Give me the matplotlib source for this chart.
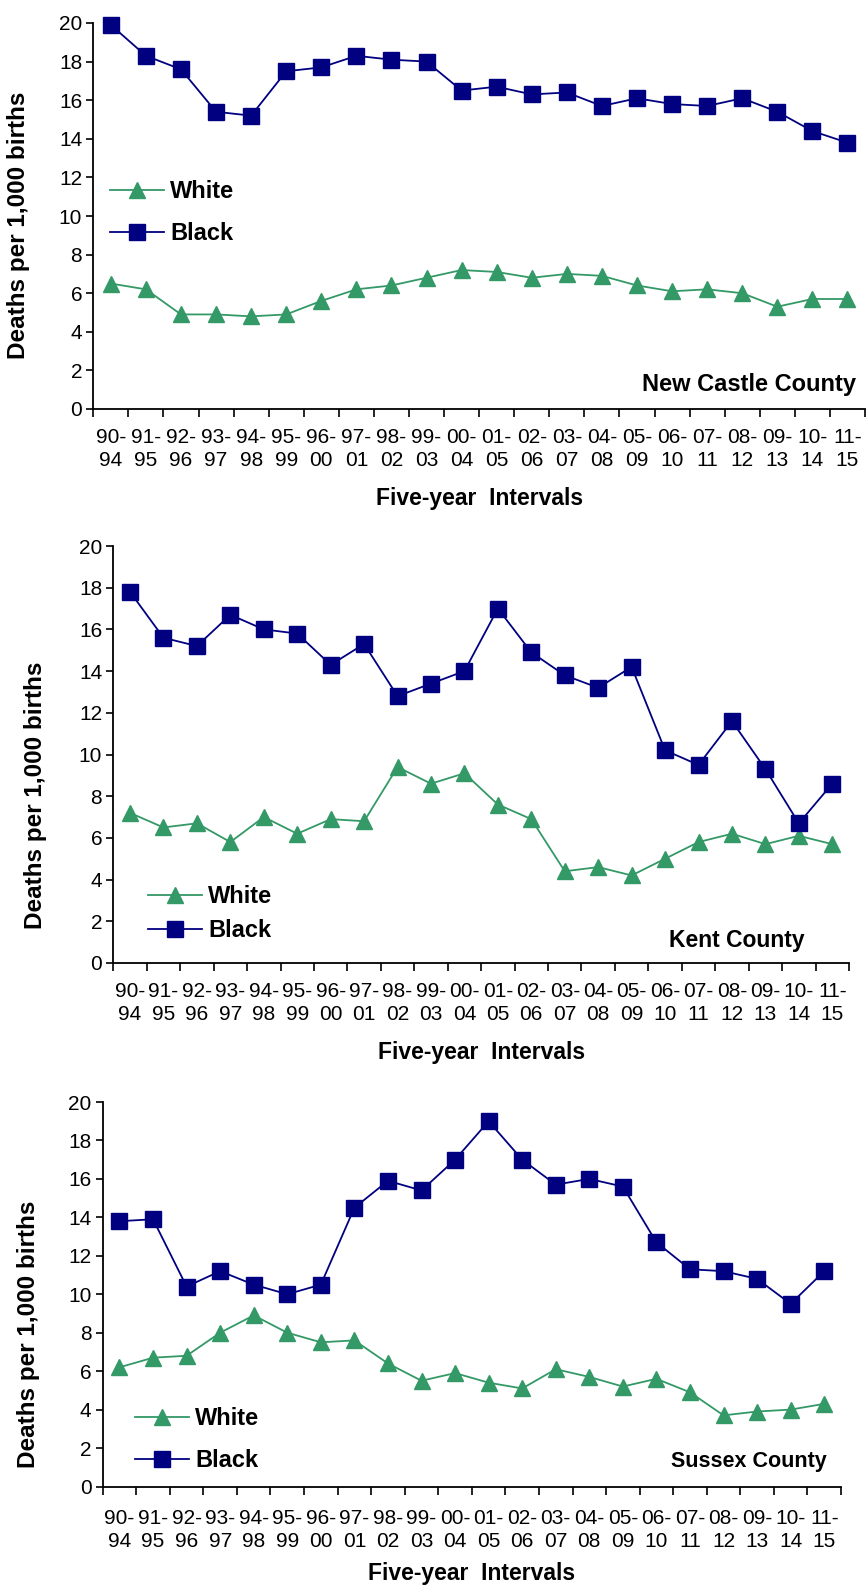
import numpy as np
import matplotlib
matplotlib.use("Agg")
import matplotlib.pyplot as plt
from matplotlib.ticker import FixedLocator

plt.rcParams['font.family'] = ['Liberation Sans', 'DejaVu Sans']

# five-year intervals 1990-94 ... 2011-15
intervals = ["90-\n94", "91-\n95", "92-\n96", "93-\n97", "94-\n98", "95-\n99",
             "96-\n00", "97-\n01", "98-\n02", "99-\n03", "00-\n04", "01-\n05",
             "02-\n06", "03-\n07", "04-\n08", "05-\n09", "06-\n10", "07-\n11",
             "08-\n12", "09-\n13", "10-\n14", "11-\n15"]

nc_white = [6.5, 6.2, 4.9, 4.9, 4.8, 4.9, 5.6, 6.2, 6.4, 6.8, 7.2,
            7.1, 6.8, 7.0, 6.9, 6.4, 6.1, 6.2, 6.0, 5.3, 5.7, 5.7]
nc_black = [19.9, 18.3, 17.6, 15.4, 15.2, 17.5, 17.7, 18.3, 18.1, 18.0, 16.5,
            16.7, 16.3, 16.4, 15.7, 16.1, 15.8, 15.7, 16.1, 15.4, 14.4, 13.8]

kent_white = [7.2, 6.5, 6.7, 5.8, 7.0, 6.2, 6.9, 6.8, 9.4, 8.6, 9.1,
              7.6, 6.9, 4.4, 4.6, 4.2, 5.0, 5.8, 6.2, 5.7, 6.1, 5.7]
kent_black = [17.8, 15.6, 15.2, 16.7, 16.0, 15.8, 14.3, 15.3, 12.8, 13.4, 14.0,
              17.0, 14.9, 13.8, 13.2, 14.2, 10.2, 9.5, 11.6, 9.3, 6.7, 8.6]

sus_white = [6.2, 6.7, 6.8, 8.0, 8.9, 8.0, 7.5, 7.6, 6.4, 5.5, 5.9,
             5.4, 5.1, 6.1, 5.7, 5.2, 5.6, 4.9, 3.7, 3.9, 4.0, 4.3]
sus_black = [13.8, 13.9, 10.4, 11.2, 10.5, 10.0, 10.5, 14.5, 15.9, 15.4, 17.0,
             19.0, 17.0, 15.7, 16.0, 15.6, 12.7, 11.3, 11.2, 10.8, 9.5, 11.2]

GREEN = '#339966'
NAVY = '#000080'

W, H = 868, 1589
fig = plt.figure(figsize=(W / 100, H / 100), dpi=100)


def px_axes(left, top, right, bottom):
    return fig.add_axes([left / W, 1 - bottom / H, (right - left) / W, (bottom - top) / H])


def draw_panel(ax, white, black, county, county_xy, county_fs, leg_xy, leg_space,
               ylab_xy, tick_pad, xlab_pad):
    x = np.arange(len(intervals)) + 0.5
    ax.plot(x, white, color=GREEN, lw=1.3, marker='^', ms=11,
            mec=GREEN, mfc=GREEN, label='White', clip_on=False, zorder=3)
    ax.plot(x, black, color=NAVY, lw=1.3, marker='s', ms=11.5,
            mec=NAVY, mfc=NAVY, label='Black', clip_on=False, zorder=4)

    ax.set_xlim(0, len(intervals))
    ax.set_ylim(0, 20)
    ax.set_yticks(np.arange(0, 21, 2))
    ax.xaxis.set_major_locator(FixedLocator(np.arange(len(intervals) + 1)))
    ax.xaxis.set_minor_locator(FixedLocator(x))
    ax.set_xticklabels([], minor=False)
    ax.set_xticklabels(intervals, minor=True, fontsize=15, linespacing=1.3)
    ax.tick_params(axis='x', which='major', direction='out', length=6, width=1.2)
    ax.tick_params(axis='x', which='minor', length=0, pad=tick_pad)
    ax.tick_params(axis='y', direction='out', length=5, width=1.2, labelsize=15, pad=3)

    for s in ('top', 'right'):
        ax.spines[s].set_visible(False)
    for s in ('left', 'bottom'):
        ax.spines[s].set_linewidth(1.3)

    ax.set_xlabel('Five-year  Intervals', fontsize=16.5, fontweight='bold', labelpad=xlab_pad)
    fig.text(ylab_xy[0] / W, 1 - ylab_xy[1] / H, 'Deaths per 1,000 births',
             rotation=90, ha='center', va='center', fontsize=17.5, fontweight='bold')

    ax.text(county_xy[0] / W, 1 - county_xy[1] / H, county, transform=fig.transFigure,
            ha='right', va='center', fontsize=county_fs, fontweight='bold')

    ax.legend(loc='upper left', bbox_to_anchor=(leg_xy[0] / W, 1 - leg_xy[1] / H),
              bbox_transform=fig.transFigure, frameon=False,
              prop={'weight': 'bold', 'size': 17}, handlelength=2.3,
              handletextpad=0.25, labelspacing=leg_space, borderpad=0, borderaxespad=0)


ax1 = px_axes(93.3, 23, 865, 409)
draw_panel(ax1, nc_white, nc_black, 'New Castle County', (856, 384), 17,
           (110, 180), 0.82, (19, 225), 13.5, 12)

ax2 = px_axes(113.3, 546, 849, 963)
draw_panel(ax2, kent_white, kent_black, 'Kent County', (805, 941), 16.5,
           (148, 885), 0.47, (36, 795), 13.5, 12)

ax3 = px_axes(102.7, 1102, 841, 1486.5)
draw_panel(ax3, sus_white, sus_black, 'Sussex County', (827, 1461), 15.5,
           (135, 1407), 0.8, (29, 1334), 16, 8)

fig.savefig('out.png', dpi=100)
